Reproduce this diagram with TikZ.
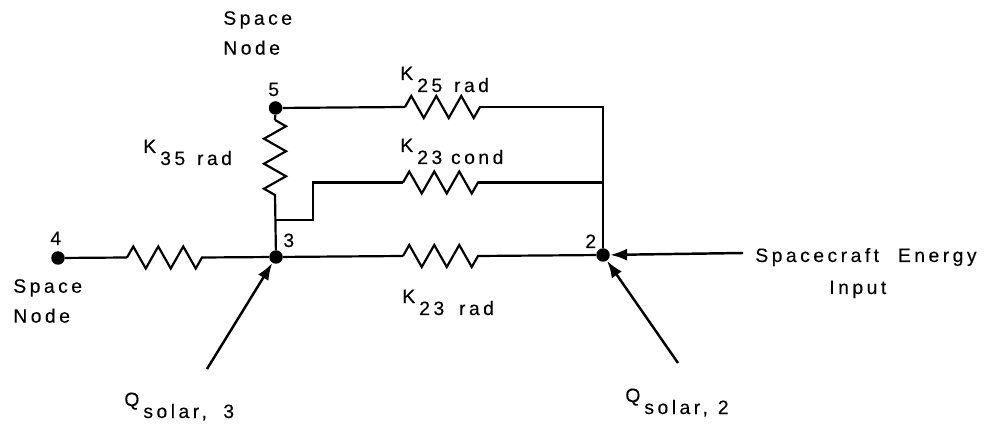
\documentclass[tikz,border=0pt]{standalone}
\usepackage{fontspec}
\setmainfont[LetterSpace=18,FakeBold=.25]{Liberation Sans}
\usetikzlibrary{arrows.meta,decorations.pathmorphing}
\newcommand{\lowsub}[1]{\hspace{.08cm}\raisebox{-.24cm}{#1}}

\begin{document}
\begin{tikzpicture}

        \tikzstyle{wire}=[line width=1.25pt]
        \tikzstyle{res}=[wire,decorate,decoration={zigzag,segment length=.5cm,amplitude=.22cm}]
        \tikzstyle{inflow}=[line width=1.4pt,->,>={Latex[length=.34cm,width=.24cm]}]
        \tikzstyle{dot}=[circle,fill=black,inner sep=0pt,minimum size=.27cm]
        \tikzstyle{lbl}=[inner sep=0pt,anchor=base west,font=\fontsize{11pt}{17pt}\selectfont]
        \tikzstyle{twoline}=[inner sep=0pt,anchor=west,align=left,font=\fontsize{11pt}{17pt}\selectfont]

        \useasboundingbox (0,0) rectangle (19.7,8.46);

        \node[dot] (N5) at (5.51,6.30) {};
        \node[dot] (N3) at (5.52,3.32) {};
        \node[dot] (N2) at (12.06,3.36) {};
        \node[dot] (N4) at (1.16,3.30) {};

        \coordinate (R25a) at (8.1,6.32);
        \coordinate (R25b) at (9.6,6.32);
        \coordinate (R23ca) at (8.06,4.81);
        \coordinate (R23cb) at (9.56,4.81);
        \coordinate (R23ra) at (8.06,3.34);
        \coordinate (R23rb) at (9.56,3.34);
        \coordinate (R4a) at (2.54,3.31);
        \coordinate (R4b) at (4.04,3.31);
        \coordinate (R35a) at (5.5,6.06);
        \coordinate (R35b) at (5.5,4.56);
        \coordinate (Stub) at (5.5,4.06);
        \coordinate (Bend) at (6.26,4.06);
        \coordinate (Mid) at (12.06,4.81);
        \coordinate (Qthree) at (4.14,1.08);
        \coordinate (Qtwo) at (13.56,1.2);
        \coordinate (Energy) at (14.86,3.4);

        \draw[res] (R25a) -- (R25b);
        \draw[res] (R23ca) -- (R23cb);
        \draw[res] (R23ra) -- (R23rb);
        \draw[res] (R4a) -- (R4b);
        \draw[res] (R35a) -- (R35b);

        \draw[wire] (N5) -- (R25a);
        \draw[wire] (R25b) -| (N2);
        \draw[wire] (R23cb) -- (Mid);
        \draw[wire] (N5) -- (R35a);
        \draw[wire] (R35b) -- (N3);
        \draw[wire] (Stub) -- (Bend) |- (R23ca);
        \draw[wire] (N3) -- (R23ra);
        \draw[wire] (R23rb) -- (N2);
        \draw[wire] (N4) -- (R4a);
        \draw[wire] (R4b) -- (N3);

        \draw[inflow] (Qthree) -- (N3);
        \draw[inflow] (Qtwo) -- (N2);
        \draw[inflow] (Energy) -- (N2);

        \node[lbl] (L5) at (5.36,6.54) {5};
        \node[lbl] (L4) at (1.0,3.56) {4};
        \node[lbl] (L3) at (5.66,3.52) {3};
        \node[lbl] (L2) at (11.7,3.5) {2};

        \node[twoline] (SpaceTop) at (4.46,7.8) {Space\\Node};
        \node[twoline] (SpaceLeft) at (.26,2.44) {Space\\Node};

        \node[lbl] (K25) at (8.0,6.86) {K\lowsub{25\hspace{.06cm} rad}};
        \node[lbl] (K23c) at (8.0,5.42) {K\lowsub{23 cond}};
        \node[lbl] (K23r) at (8.04,2.4) {K\lowsub{23\hspace{.12cm} rad}};
        \node[lbl] (K35) at (2.86,5.4) {K\lowsub{35\hspace{.06cm} rad}};
        \node[lbl] (Qs3) at (2.48,.34) {Q\lowsub{solar,\hspace{.15cm} 3}};
        \node[lbl] (Qs2) at (12.5,.42) {Q\lowsub{solar,\hspace{.02cm} 2}};

        \node[lbl] (SE) at (15.1,3.22) {Spacecraft\hspace{.2cm} Energy};
        \node[lbl] (In) at (16.58,2.58) {Input};

\end{tikzpicture}
\end{document}
